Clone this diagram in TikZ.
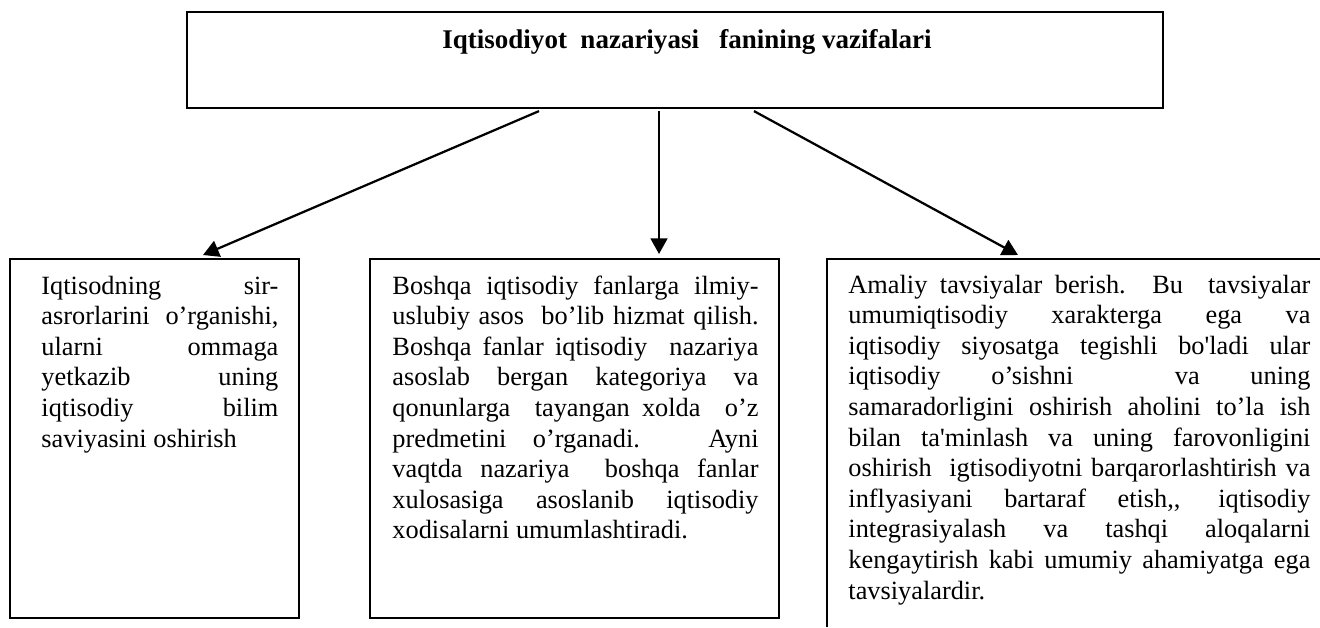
\documentclass[tikz,border=0pt]{standalone}
\usepackage{fontspec}
\setmainfont{Liberation Serif}[Ligatures=TeXOff]
\usetikzlibrary{arrows.meta,calc}
\hbadness=10000
\hfuzz=3pt
\tikzset{
  x=0.4444pt, y=-0.4444pt,
  boxline/.style={draw, line width=0.8pt, inner sep=0pt, outer sep=0pt, anchor=north west},
  body/.style={inner sep=0pt, anchor=base west, font=\fontsize{11.7}{13.6}\selectfont},
  arr/.style={line width=1pt, -{Triangle[length=7pt,width=7.5pt]}},
}
\begin{document}
\begin{tikzpicture}
\useasboundingbox (0,0) rectangle (1320,627);
% top box
\node[boxline, line width=0.9pt, minimum width=433.7pt, minimum height=42.7pt] (top) at (187,12) {};
\node[inner sep=0pt, anchor=base west, font=\bfseries\fontsize{12}{14}\selectfont] (title) at (442,48)
  {Iqtisodiyot\ \ nazariyasi\ \ \ fanining vazifalari};
% lower boxes
\node[boxline, minimum width=128.4pt, minimum height=159.5pt] (b1) at (10,259) {};
\node[boxline, minimum width=181.8pt, minimum height=159.5pt] (b2) at (370,259) {};
\node[boxline, draw=none, minimum width=219.1pt, minimum height=163.5pt] (b3) at (827,259) {};
\draw[line width=0.8pt] (b3.south west) -- (b3.north west) -- (b3.north east);
% texts
\node[body] (t1) at (41,294) {\parbox[t]{105.3pt}{Iqtisodning sir-\linebreak asrorlarini o’rganishi,\linebreak ularni ommaga\linebreak yetkazib uning\linebreak iqtisodiy bilim\linebreak saviyasini oshirish}};
\node[body] (t2) at (392,294) {\parbox[t]{162.7pt}{Boshqa iqtisodiy fanlarga ilmiy-\linebreak uslubiy asos \ bo’lib hizmat qilish.\linebreak Boshqa fanlar iqtisodiy \ nazariya\linebreak asoslab bergan kategoriya va\linebreak qonunlarga \ tayangan xolda \ o’z\linebreak predmetini o’rganadi. Ayni\linebreak vaqtda nazariya \ boshqa fanlar\linebreak xulosasiga asoslanib iqtisodiy\linebreak xodisalarni umumlashtiradi.}};
\node[body] (t3) at (848,293) {\parbox[t]{205.3pt}{Amaliy tavsiyalar berish. Bu \ tavsiyalar\linebreak umumiqtisodiy xarakterga ega va\linebreak iqtisodiy siyosatga tegishli bo'ladi ular\linebreak iqtisodiy o’sishni \ va uning\linebreak samaradorligini oshirish aholini to’la ish\linebreak bilan ta'minlash va uning farovonligini\linebreak oshirish \ igtisodiyotni barqarorlashtirish va\linebreak inflyasiyani bartaraf etish,, iqtisodiy\linebreak integrasiyalash va tashqi aloqalarni\linebreak kengaytirish kabi umumiy ahamiyatga ega\linebreak tavsiyalardir.}};
% connectors
\draw[arr] ($(top.south west)+(352,3)$) -- ($(b1.north west)+(193,-4)$);
\draw[arr] ($(top.south west)+(472,3)$) -- ($(b2.north west)+(289,-5)$);
\draw[arr] ($(top.south west)+(567,3)$) -- ($(b3.north west)+(191,-4)$);
\end{tikzpicture}
\end{document}
